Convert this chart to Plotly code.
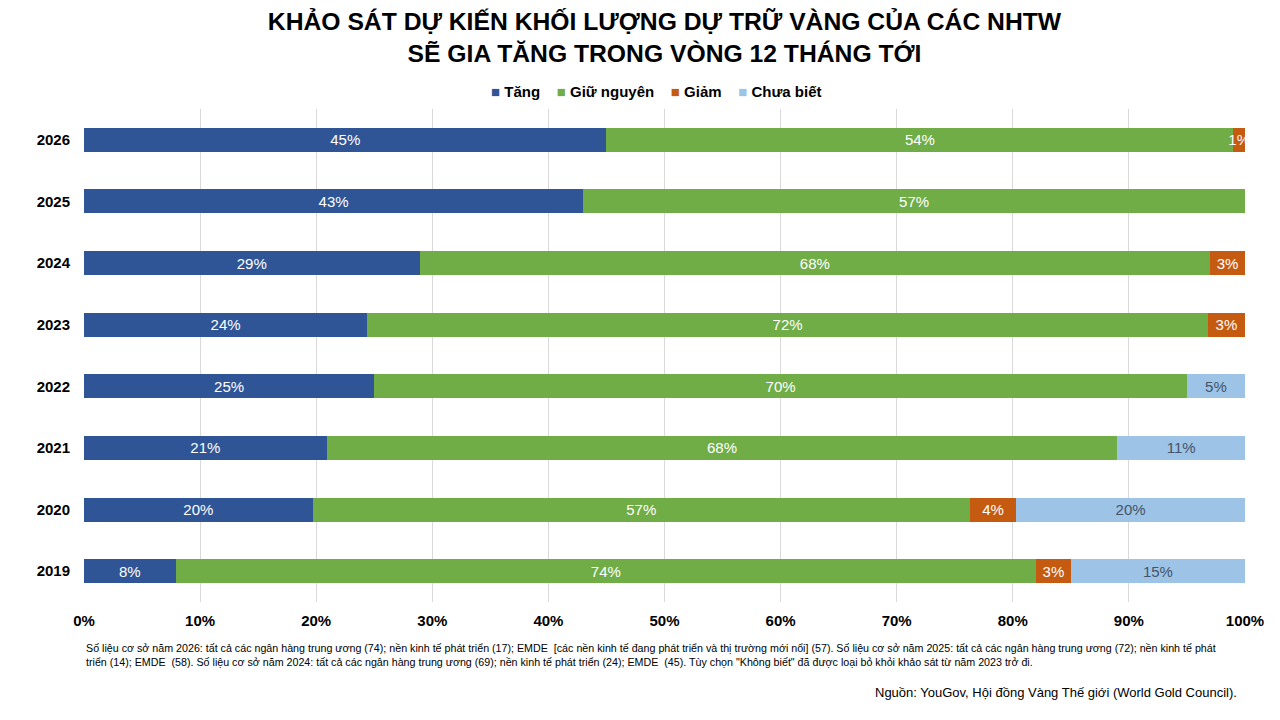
import plotly.graph_objects as go

# Survey years (top to bottom in the chart: 2026 ... 2019)
years = ["2019", "2020", "2021", "2022", "2023", "2024", "2025", "2026"]

# Share of central banks (%) for each answer
tang = [7.9, 19.7, 20.9, 25.0, 24.4, 28.9, 43.0, 45.0]
giu_nguyen = [74.1, 56.6, 68.1, 70.0, 72.4, 68.1, 57.0, 54.0]
giam = [3.0, 4.0, None, None, 3.2, 3.0, None, 1.0]
chua_biet = [15.0, 19.7, 11.0, 5.0, None, None, None, None]

series = [
    ("Tăng", tang, "#2F5597", "white"),
    ("Giữ nguyên", giu_nguyen, "#70AD47", "white"),
    ("Giảm", giam, "#C55A11", "white"),
    ("Chưa biết", chua_biet, "#9DC3E6", "#44546A"),
]

fig = go.Figure()
for name, vals, color, txtcolor in series:
    fig.add_trace(go.Bar(
        y=years, x=vals, name=name, orientation="h",
        marker=dict(color=color, line_width=0),
        texttemplate="%{x:.0f}%", textposition="inside",
        insidetextanchor="middle", textangle=0,
        textfont=dict(family="Liberation Sans", size=15, color=txtcolor),
        constraintext="none", cliponaxis=False, showlegend=False,
    ))

# legend drawn as a line of text so the markers sit close to their labels
legend_text = "    ".join(
    f"<span style='color:{color}'>■</span> {name}" for name, _, color, _ in series
)

footnote = ("Số liệu cơ sở năm 2026: tất cả các ngân hàng trung ương (74); nền kinh tế phát triển (17); EMDE  [các nền kinh tế đang phát triển và thị trường mới nổi] (57). "
            "Số liệu cơ sở năm 2025: tất cả các ngân hàng trung ương (72); nền kinh tế phát<br>"
            "triển (14); EMDE  (58). Số liệu cơ sở năm 2024: tất cả các ngân hàng trung ương (69); nền kinh tế phát triển (24); EMDE  (45). "
            "Tùy chọn \"Không biết\" đã được loại bỏ khỏi khảo sát từ năm 2023 trở đi.")

fig.update_layout(
    barmode="stack", bargap=0.61,
    width=1280, height=720,
    plot_bgcolor="white", paper_bgcolor="white",
    margin=dict(l=76, r=43, t=101, b=126),
    font=dict(family="Liberation Sans", color="black"),
    title=dict(
        text="<b>KHẢO SÁT DỰ KIẾN KHỐI LƯỢNG DỰ TRỮ VÀNG CỦA CÁC NHTW<br>SẼ GIA TĂNG TRONG VÒNG 12 THÁNG TỚI</b>",
        x=0.5, xanchor="center", xref="paper", yref="container",
        y=0.969, yanchor="middle",
        font=dict(family="Liberation Sans", size=24.7, color="black"),
    ),
    showlegend=False,
    xaxis=dict(
        range=[0, 100.001], tickvals=list(range(0, 101, 10)),
        ticktext=[f"{v}%" for v in range(0, 101, 10)],
        showgrid=True, gridcolor="#D9D9D9", gridwidth=1,
        zeroline=False, showline=False, fixedrange=True,
        tickfont=dict(family="Liberation Sans", size=15, color="black", weight="bold"),
        ticks="", ticklabelstandoff=8,
    ),
    yaxis=dict(
        categoryorder="array", categoryarray=years,
        showgrid=False, showline=False, zeroline=False,
        tickfont=dict(family="Liberation Sans", size=15, color="black", weight="bold"),
        ticks="", ticklabelstandoff=13,
    ),
    uniformtext=dict(minsize=15, mode="show"),
    annotations=[
        dict(text=legend_text, xref="paper", yref="paper", x=0.493, y=1.0365,
             xanchor="center", yanchor="middle", showarrow=False,
             font=dict(family="Liberation Sans", size=15, color="black", weight="bold")),
        dict(text=footnote, xref="paper", yref="paper", x=0.0, y=-0.078,
             xanchor="left", yanchor="top", align="left", showarrow=False,
             font=dict(family="Liberation Sans", size=10.7, color="black")),
        dict(text="Nguồn: YouGov, Hội đồng Vàng Thế giới (World Gold Council).",
             xref="paper", yref="paper", x=0.9948, y=-0.164,
             xanchor="right", yanchor="top", align="right", showarrow=False,
             font=dict(family="Liberation Sans", size=13, color="black")),
    ],
)

fig.write_html("out.html")
